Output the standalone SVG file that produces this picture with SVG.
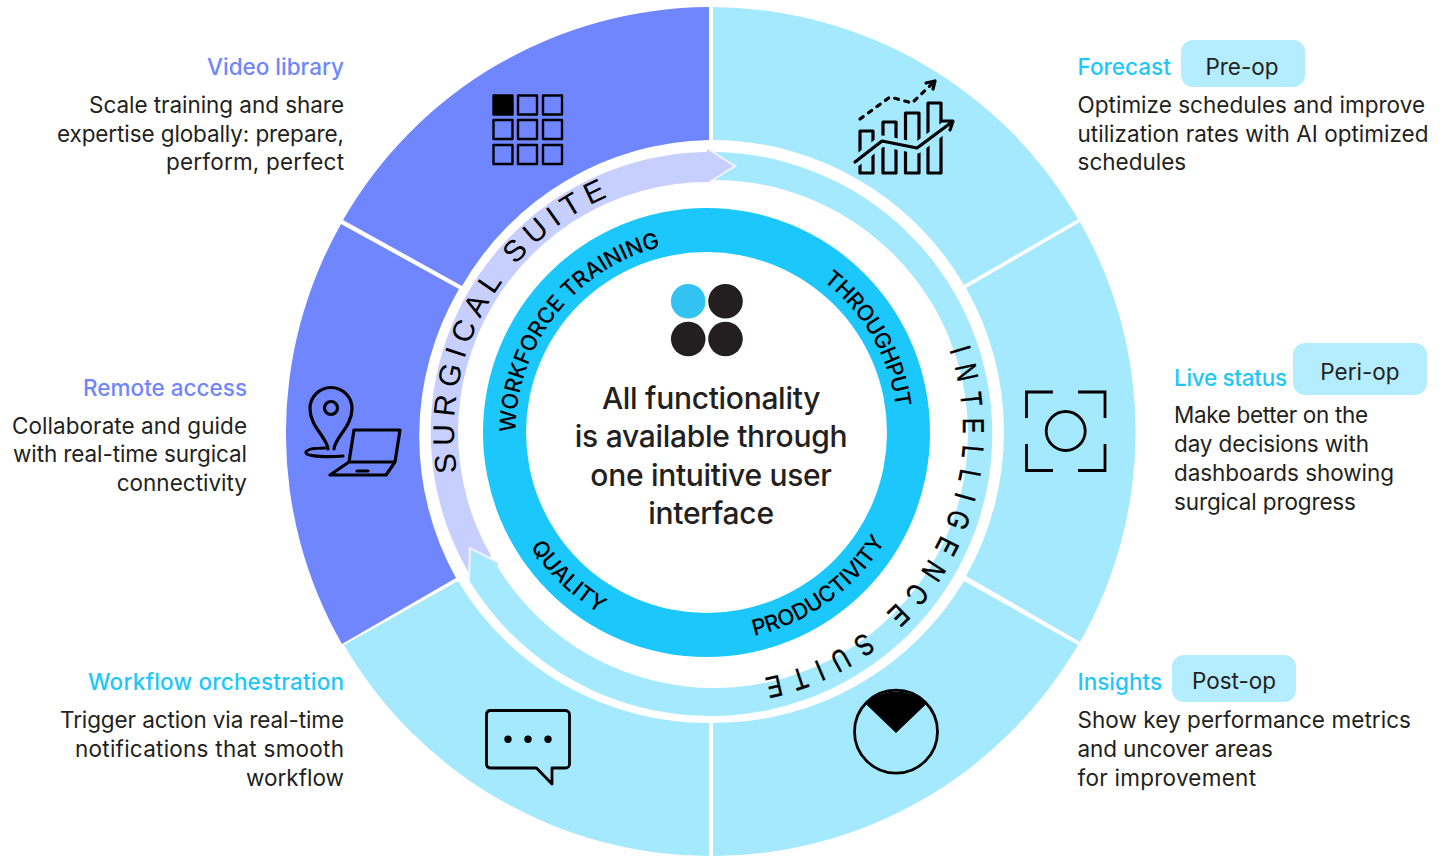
<svg xmlns="http://www.w3.org/2000/svg" width="1449" height="856" viewBox="0 0 1449 856">
<style>
text{font-family:"Inter","Liberation Sans",sans-serif;fill:#231f20}
.b{font-size:22.5px}
.r{text-anchor:end}
.t{font-size:22.5px;font-weight:500}
.pt{font-size:22.5px;text-anchor:middle}
.pill{fill:#b3edff}
.ic{fill:none;stroke:#000;stroke-width:3.2;stroke-linejoin:round;stroke-linecap:round}
.ring{font-family:"Liberation Sans",sans-serif;font-size:30px;fill:#000;letter-spacing:6.8px}
.ring2{font-family:"Liberation Sans",sans-serif;font-size:30px;fill:#000;letter-spacing:14px;stroke:#000;stroke-width:.5}
.in{font-family:"Inter","Liberation Sans",sans-serif;font-size:22px;font-weight:500;fill:#000}
.ct{font-size:30px;font-weight:500;text-anchor:middle;letter-spacing:-.3px}
</style>
<defs>
<path id="pSurg" d="M457.200 472.200A257 257 0 0 1 711 175"/>
<path id="pInt" d="M949.300 350A252 252 0 0 1 740 682.300"/>
<path id="pWork" d="M515.500 432.500A191 191 0 0 1 706.500 241.500"/>
<path id="pThru" d="M823 281A191 191 0 0 1 897.500 432.500"/>
<path id="pQual" d="M530.400 546.900A210 210 0 0 0 670 639.300"/>
<path id="pProd" d="M754.200 636A209 209 0 0 0 903 504"/>
</defs>
<g id="sectors">
<path d="M709 7A424.500 424.500 0 0 0 343 220L462 286A292 292 0 0 1 709 140Z" fill="#6f86ff"/>
<path d="M341 224A424.500 424.500 0 0 0 342 644L456 578A292 292 0 0 1 459 289Z" fill="#6f86ff"/>
<path d="M344 645A424.500 424.500 0 0 0 709 856V723A292 292 0 0 1 458 581Z" fill="#a5e9ff"/>
<path d="M713 856A424.500 424.500 0 0 0 1078 645L964 581A292 292 0 0 1 713 723Z" fill="#a5e9ff"/>
<path d="M1080 642A424.500 424.500 0 0 0 1080 222L966 288A292 292 0 0 1 966 576Z" fill="#a5e9ff"/>
<path d="M713 7A424.500 424.500 0 0 1 1078 219L964 285A292 292 0 0 0 713 140Z" fill="#a5e9ff"/>
</g>
<g id="connectors">
<path d="M713 152A282 282 0 1 1 469 580L470 548L499 563L497 566A254 254 0 1 0 713 180Z" fill="#a5e9ff"/>
<path d="M470 575A280 280 0 0 1 707 152V149L735 166L707 183V182A250 250 0 0 0 491 556Z" fill="#c7cfff"/>
<path d="M708 149L735 166L708 183" fill="none" stroke="#f2f3ff" stroke-width="2"/>
<path d="M469 580L470 548L499 563Z" fill="#a5e9ff"/>
<path d="M469 580L470 548L499 563" fill="none" stroke="#f2f3ff" stroke-width="2"/>
</g>
<g id="center">
<path fill-rule="evenodd" fill="#1cc8fb" d="M483 432.500a223.500 224.500 0 1 0 447 0a223.500 224.500 0 1 0 -447 0ZM526 432.500a180.500 180.500 0 1 0 361 0a180.500 180.500 0 1 0 -361 0Z"/>
<circle cx="688.200" cy="301.300" r="17.300" fill="#33c3f3"/>
<circle cx="725.500" cy="301.300" r="17.300" fill="#231f20"/>
<circle cx="688.200" cy="339" r="17.300" fill="#231f20"/>
<circle cx="725.500" cy="339" r="17.300" fill="#231f20"/>
<text class="ct" x="711" y="409">All functionality</text>
<text class="ct" x="711" y="447">is available through</text>
<text class="ct" x="711" y="486">one intuitive user</text>
<text class="ct" x="711" y="524">interface</text>
</g>
<g id="ring-labels">
<text class="ring"><textPath href="#pSurg">SURGICAL SUITE</textPath></text>
<text class="ring2"><textPath href="#pInt" textLength="436" lengthAdjust="spacingAndGlyphs">INTELLIGENCE SUITE</textPath></text>
<text class="in"><textPath href="#pWork">WORKFORCE TRAINING</textPath></text>
<text class="in" style="letter-spacing:-.7px"><textPath href="#pThru">THROUGHPUT</textPath></text>
<text class="in"><textPath href="#pQual">QUALITY</textPath></text>
<text class="in"><textPath href="#pProd">PRODUCTIVITY</textPath></text>
</g>
<g id="video-library">
<text class="t r" x="344" y="75" style="fill:#6f86ff">Video library</text>
<text class="b r" x="344" y="113" textLength="255">Scale training and share</text>
<text class="b r" x="344" y="142" textLength="287">expertise globally: prepare,</text>
<text class="b r" x="344" y="170" textLength="178">perform, perfect</text>
<g class="ic" style="stroke-width:2.400">
<rect x="493.500" y="95.500" width="19" height="19" fill="#000"/><rect x="518" y="95.500" width="19" height="19"/><rect x="543" y="95.500" width="19" height="19"/>
<rect x="493.500" y="120" width="19" height="19"/><rect x="518" y="120" width="19" height="19"/><rect x="543" y="120" width="19" height="19"/>
<rect x="493.500" y="145" width="19" height="19"/><rect x="518" y="145" width="19" height="19"/><rect x="543" y="145" width="19" height="19"/>
</g>
</g>
<g id="remote-access">
<text class="t r" x="247" y="396" style="fill:#6f86ff">Remote access</text>
<text class="b r" x="247" y="434" textLength="235">Collaborate and guide</text>
<text class="b r" x="247" y="462" textLength="234">with real-time surgical</text>
<text class="b r" x="247" y="491">connectivity</text>
<g class="ic">
<path d="M328 449C327 437 310 427 310 408.500A21 21 0 0 1 352 408.500C352 427 335 437 334 449"/>
<circle cx="331" cy="408" r="6.500"/>
<path d="M325 448C315 448 306 449 306 452.500C306 457 330 457 343 456"/>
<path d="M349 462L354 430H400L395 462ZM349 462L330 475H386L395 462M357 471H368"/>
</g>
</g>
<g id="workflow">
<text class="t r" x="344" y="690" textLength="256" style="fill:#1cc8fb">Workflow orchestration</text>
<text class="b r" x="344" y="728" textLength="284">Trigger action via real-time</text>
<text class="b r" x="344" y="757" textLength="269">notifications that smooth</text>
<text class="b r" x="344" y="786">workflow</text>
<path class="ic" d="M490 710.500H565.500A4 4 0 0 1 569.500 714.500V764A4 4 0 0 1 565.500 768H552V784L536.500 768H490A4 4 0 0 1 486.500 764V714.500A4 4 0 0 1 490 710.500Z" style="stroke-width:2.800"/>
<circle cx="508" cy="739.300" r="3.700"/><circle cx="528" cy="739.300" r="3.700"/><circle cx="548" cy="739.300" r="3.700"/>
</g>
<g id="forecast">
<text class="t" x="1077.500" y="75" style="fill:#1cc8fb">Forecast</text>
<rect class="pill" x="1181" y="40" width="124" height="47" rx="12"/>
<text class="pt" x="1242" y="75">Pre-op</text>
<text class="b" x="1077.500" y="113" textLength="347.500">Optimize schedules and improve</text>
<text class="b" x="1077.500" y="142" textLength="351">utilization rates with AI optimized</text>
<text class="b" x="1077.500" y="170">schedules</text>
<g class="ic">
<path d="M860 119L890 97L912 103L935 81" stroke-dasharray="4 6.500"/>
<path d="M926 83L935 81L933 89"/>
<path d="M860 131H873V173H860ZM883 122H896V173H883ZM905.500 113H919V173H905.500ZM928 103H941V173H928Z"/>
<path d="M855 162L882 141L917 148L952 122" style="stroke:#a5e9ff;stroke-width:11;stroke-linecap:butt"/>
<path d="M855 162L882 141L917 148L952 122M943 121L953 121L950 130"/>
</g>
</g>
<g id="live-status">
<text class="t" x="1174" y="386" textLength="113" style="fill:#1cc8fb">Live status</text>
<rect class="pill" x="1293" y="343" width="134" height="52" rx="12"/>
<text class="pt" x="1360" y="380">Peri-op</text>
<text class="b" x="1174" y="423" textLength="194">Make better on the</text>
<text class="b" x="1174" y="452" textLength="195">day decisions with</text>
<text class="b" x="1174" y="481" textLength="220">dashboards showing</text>
<text class="b" x="1174" y="510" textLength="182">surgical progress</text>
<g class="ic" style="stroke-linecap:butt;stroke-linejoin:miter;stroke-width:2.800">
<circle cx="1065.700" cy="431" r="19.500"/>
<path d="M1026.500 418V392H1053M1078 392H1105V418M1105 444V470.500H1078M1053 470.500H1026.500V444"/>
</g>
</g>
<g id="insights">
<text class="t" x="1077.500" y="690" style="fill:#1cc8fb">Insights</text>
<rect class="pill" x="1172" y="655" width="124" height="47" rx="12"/>
<text class="pt" x="1234" y="689">Post-op</text>
<text class="b" x="1077.500" y="728" textLength="333.500">Show key performance metrics</text>
<text class="b" x="1077.500" y="757" textLength="195.500">and uncover areas</text>
<text class="b" x="1077.500" y="786" textLength="178.500">for improvement</text>
<circle class="ic" cx="896" cy="731.700" r="41.500" style="stroke-width:2.800"/>
<path d="M866 704.300A41.500 41.500 0 0 1 926 704.300L896 733Z" fill="#000"/>
</g>
</svg>
